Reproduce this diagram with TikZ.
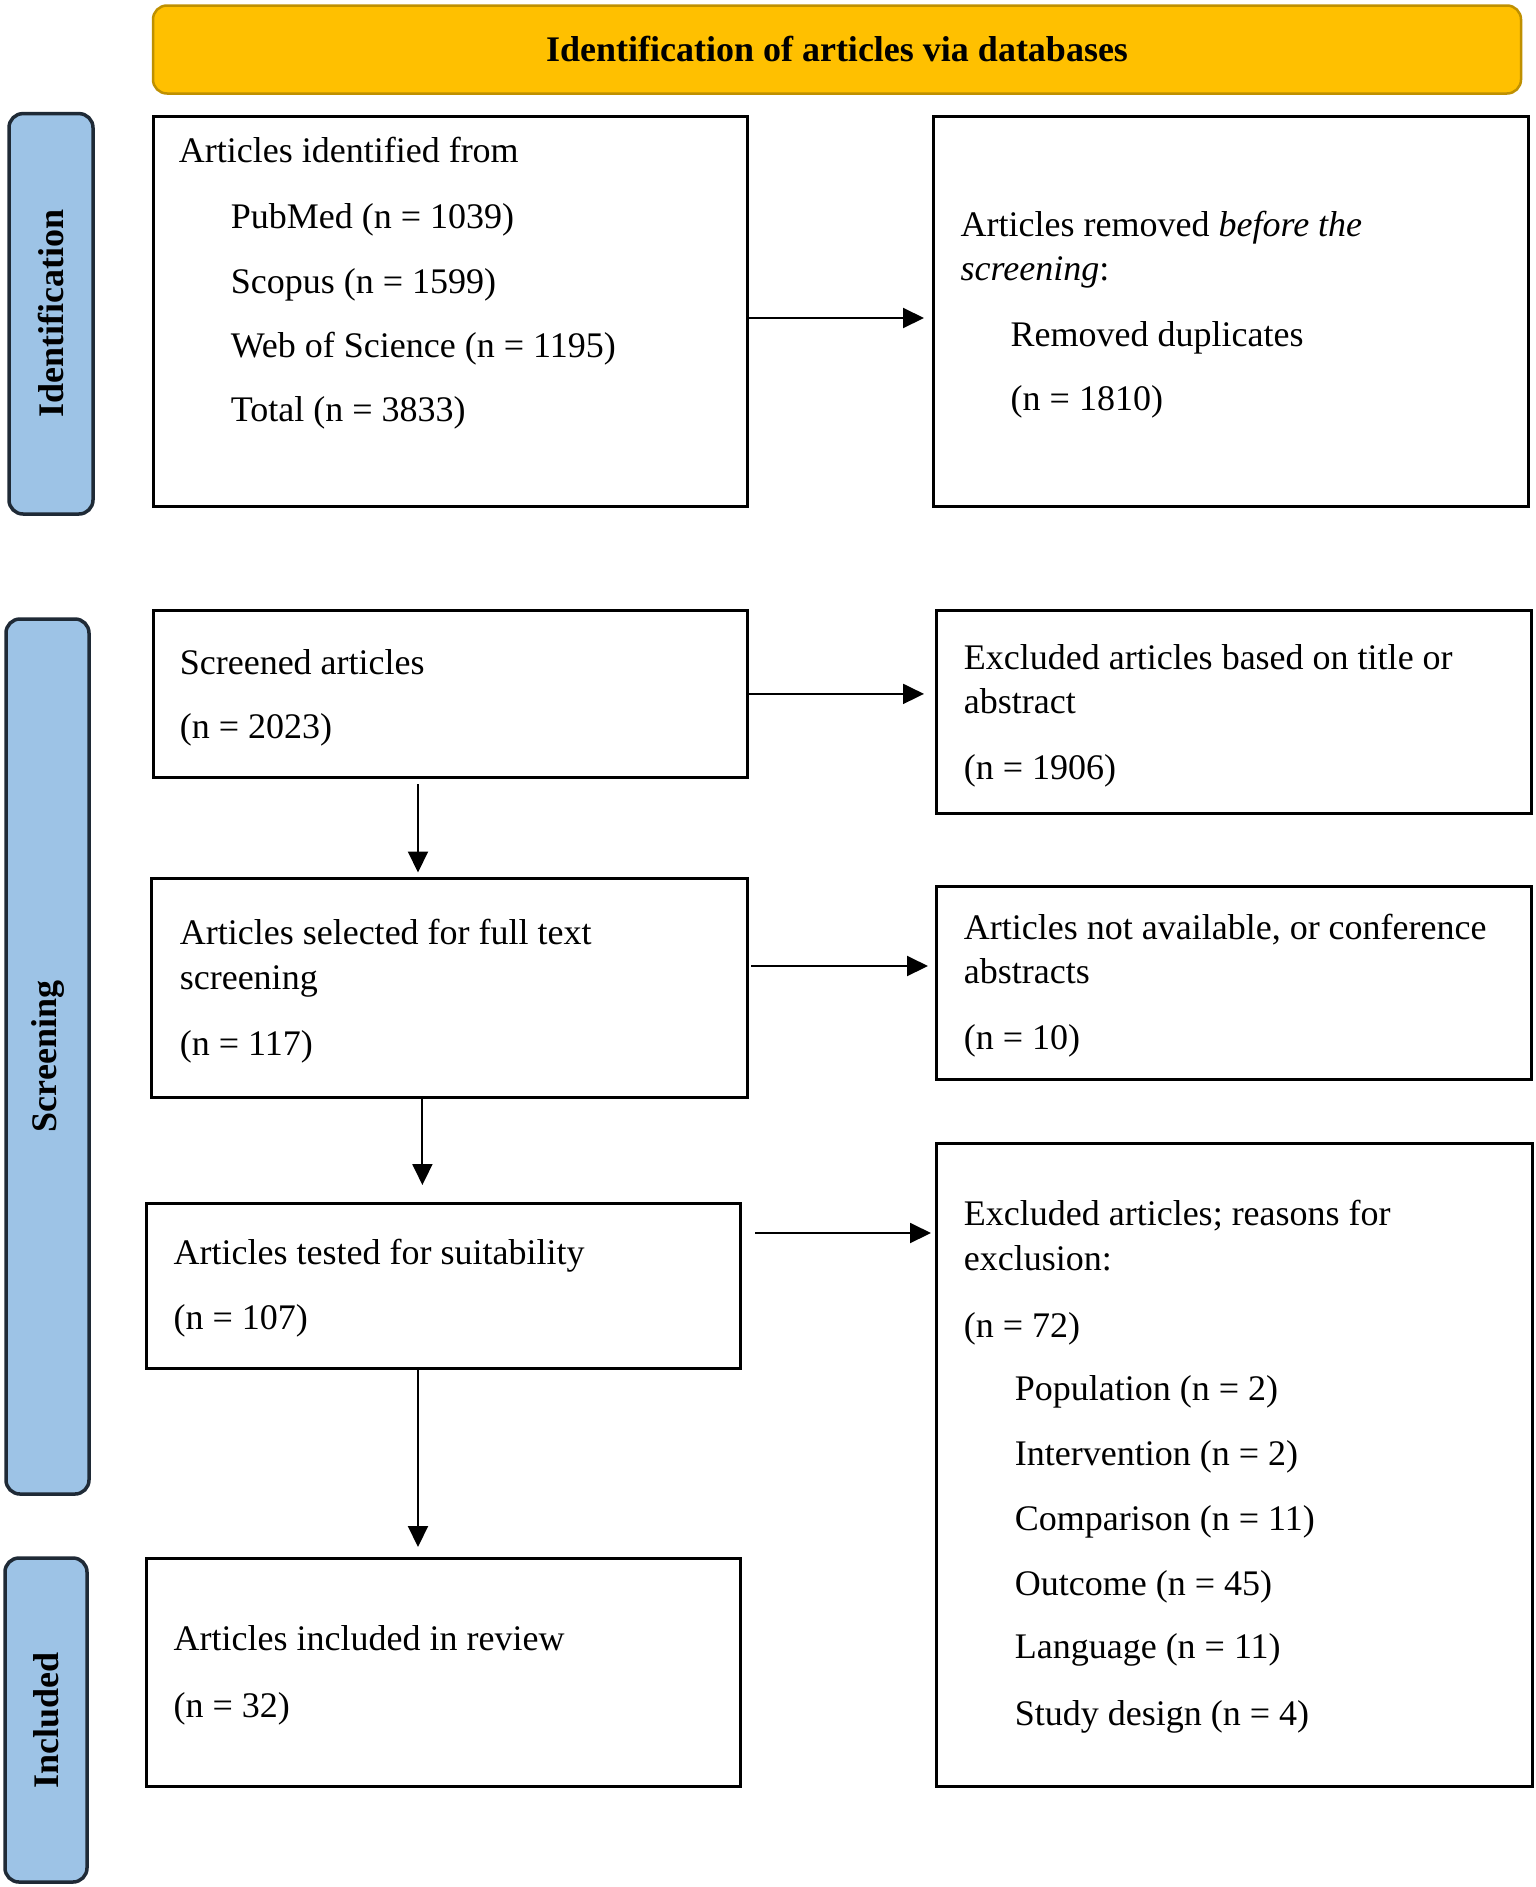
\documentclass[tikz,border=0pt]{standalone}
\usepackage{fontspec}
\setmainfont{Liberation Serif}
\usetikzlibrary{arrows.meta}
\definecolor{sideblue}{HTML}{9DC3E6}
\definecolor{sideedge}{HTML}{1F2A36}
\definecolor{bannergold}{HTML}{FFC000}
\definecolor{banneredge}{HTML}{BF9000}
\newcommand\mytline[4]{\node[txt] (#1) at (#2,#3) {#4};}
\begin{document}
\begin{tikzpicture}[x=1pt,y=-1pt,
  box/.style={draw=black, line width=3pt, inner sep=0pt, outer sep=0pt, fill=white},
  side/.style={draw=sideedge, fill=sideblue, line width=3.5pt, rounded corners=14pt, inner sep=0pt, outer sep=0pt},
  banner/.style={draw=banneredge, fill=bannergold, line width=2.5pt, rounded corners=14pt, inner sep=0pt, outer sep=0pt},
  sidelabel/.style={rotate=90, font=\fontsize{36}{40}\selectfont\bfseries, inner sep=0pt},
  txt/.style={anchor=base west, inner sep=0pt, font=\fontsize{36}{42}\selectfont},
  arr/.style={line width=2pt, -{Triangle[length=21pt,width=20pt]}},
]
\fill[white] (0,0) rectangle (1535,1887);
\useasboundingbox (0,0) rectangle (1535,1887);

% banner
\node[banner, minimum width=1368pt, minimum height=88pt] (ban) at (837,49.5) {};
\node[anchor=base, inner sep=0pt, font=\fontsize{36}{42}\selectfont\bfseries] (bantxt) at (837,61.4) {Identification of articles via databases};

% side bars
\node[side, minimum width=84pt, minimum height=400.4pt] (sid) at (51,313.8) {};
\node[sidelabel] (sidt) at (sid.center) {Identification};
\node[side, minimum width=83pt, minimum height=875pt] (sscr) at (47.5,1056.5) {};
\node[sidelabel] (sscrt) at (sscr.center) {Screening};
\node[side, minimum width=82pt, minimum height=324pt] (sinc) at (46,1720) {};
\node[sidelabel] (sinct) at (sinc.center) {Included};

% boxes
\node[box, minimum width=594.5pt, minimum height=390pt] (A) at (450.25,311) {};
\node[box, minimum width=595pt, minimum height=390pt] (B) at (1230.5,311) {};
\node[box, minimum width=594.5pt, minimum height=167pt] (C) at (450.25,693.9) {};
\node[box, minimum width=594.5pt, minimum height=202.6pt] (G) at (1233.75,711.7) {};
\node[box, minimum width=596.5pt, minimum height=219pt] (D) at (449.25,987.5) {};
\node[box, minimum width=594.5pt, minimum height=193pt] (H) at (1233.75,982.5) {};
\node[box, minimum width=593.6pt, minimum height=165pt] (E) at (443.2,1285.5) {};
\node[box, minimum width=595.5pt, minimum height=642.5pt] (I) at (1234.25,1464.75) {};
\node[box, minimum width=593.6pt, minimum height=228pt] (F) at (443.2,1672) {};

% texts
\mytline{a1}{178.6}{162.5}{Articles identified from}
\mytline{a2}{230.6}{228.6}{PubMed (n = 1039)}
\mytline{a3}{230.6}{293}{Scopus (n = 1599)}
\mytline{a4}{230.6}{357}{Web of Science (n = 1195)}
\mytline{a5}{230.6}{421}{Total (n = 3833)}

\mytline{b1}{960.5}{236}{Articles removed \textit{before the}}
\mytline{b2}{960.5}{280}{\textit{screening}:}
\mytline{b3}{1010.5}{346.4}{Removed duplicates}
\mytline{b4}{1010.5}{410.7}{(n = 1810)}

\mytline{c1}{179.6}{674}{Screened articles}
\mytline{c2}{179.6}{738.6}{(n = 2023)}

\mytline{g1}{963.6}{669.4}{Excluded articles based on title or}
\mytline{g2}{963.6}{713}{abstract}
\mytline{g3}{963.6}{779.6}{(n = 1906)}

\mytline{d1}{179.6}{944.8}{Articles selected for full text}
\mytline{d2}{179.6}{989.5}{screening}
\mytline{d3}{179.6}{1055.5}{(n = 117)}

\mytline{h1}{963.6}{939.5}{Articles not available, or conference}
\mytline{h2}{963.6}{983}{abstracts}
\mytline{h3}{963.6}{1049}{(n = 10)}

\mytline{e1}{173.5}{1264}{Articles tested for suitability}
\mytline{e2}{173.5}{1329}{(n = 107)}

\mytline{i1}{963.6}{1225}{Excluded articles; reasons for}
\mytline{i2}{963.6}{1270}{exclusion:}
\mytline{i3}{963.6}{1337.4}{(n = 72)}
\mytline{i4}{1014.6}{1400.4}{Population (n = 2)}
\mytline{i5}{1014.6}{1465}{Intervention (n = 2)}
\mytline{i6}{1014.6}{1530.5}{Comparison (n = 11)}
\mytline{i7}{1014.6}{1595.5}{Outcome (n = 45)}
\mytline{i8}{1014.6}{1658.5}{Language (n = 11)}
\mytline{i9}{1014.6}{1725.6}{Study design (n = 4)}

\mytline{f1}{173.5}{1650}{Articles included in review}
\mytline{f2}{173.5}{1717.5}{(n = 32)}

% horizontal arrows
\draw[arr, shorten >=9pt] ([yshift=-7pt]A.east) -- ([yshift=-7pt]A.east -| B.west);
\draw[arr, shorten >=12.5pt] (C.east) -- (C.east -| G.west);
\draw[arr, shorten <=3.5pt, shorten >=8.5pt] ([yshift=21.5pt]D.east) -- ([yshift=21.5pt]D.east -| H.west);
\draw[arr, shorten <=15pt, shorten >=5.5pt] ([yshift=52.5pt]E.east) -- ([yshift=52.5pt]E.east -| I.west);

% vertical arrows
\draw[arr, shorten <=7pt, shorten >=5.5pt] ([xshift=-32.25pt]C.south) -- ([xshift=-32.25pt]C.south |- D.north);
\draw[arr, shorten >=18pt] ([xshift=-26.85pt]D.south) -- ([xshift=-26.85pt]D.south |- E.north);
\draw[arr, shorten >=11pt] ([xshift=-25.2pt]E.south) -- ([xshift=-25.2pt]E.south |- F.north);
\end{tikzpicture}
\end{document}
